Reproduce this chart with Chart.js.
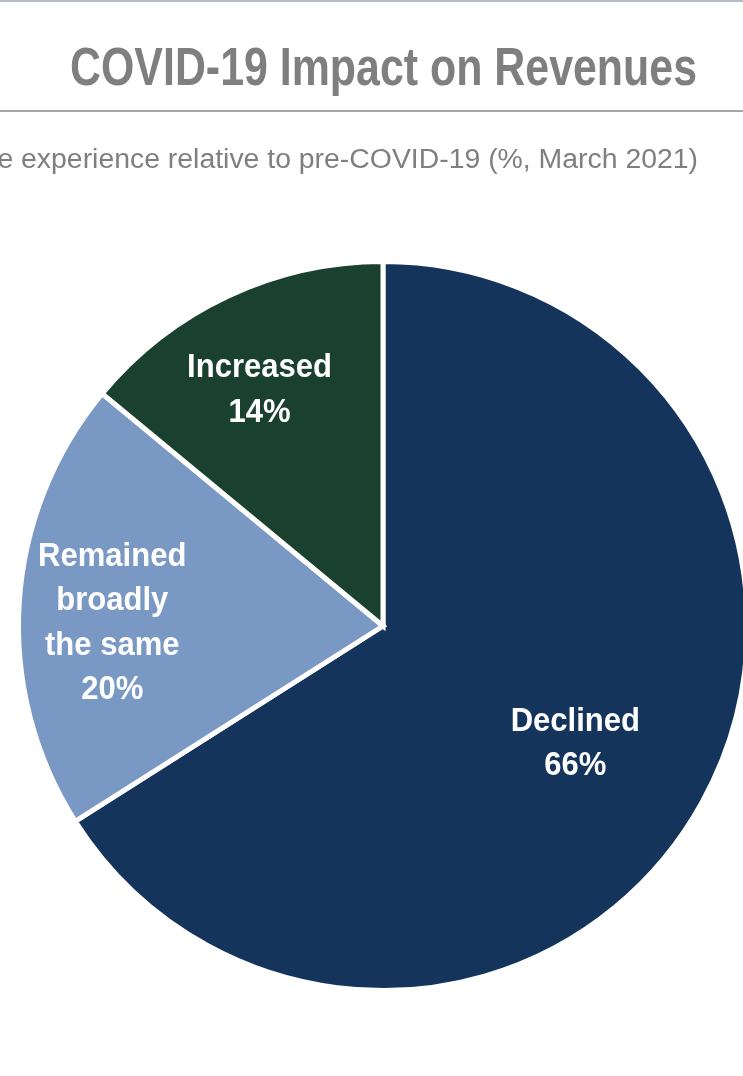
<!DOCTYPE html>
<html>
<head>
<meta charset="utf-8">
<script src="https://cdn.jsdelivr.net/npm/chart.js@4.4.1/dist/chart.umd.min.js"></script>
<style>
  html, body { margin: 0; padding: 0; background: #fff; overflow: hidden; }
  #wrap { width: 766px; height: 1076px; }
</style>
</head>
<body>
<div id="wrap"><canvas id="chart" width="766" height="1076"></canvas></div>
<script>
const title = 'COVID-19 Impact on Revenues'
const subtitle = 'Revenue experience relative to pre-COVID-19 (%, March 2021)'
const categories = ['Declined', 'Remained broadly the same', 'Increased']
const labelLines = [['Declined'], ['Remained', 'broadly', 'the same'], ['Increased']]
const shares = [66, 20, 14]
const colors = ['#15345c', '#7a98c4', '#1a4030']

// draw text squeezed horizontally (no narrow font installed)
function squeezed (ctx, text, x, y, sx) {
  ctx.save()
  ctx.translate(x, y)
  ctx.scale(sx, 1)
  ctx.fillText(text, 0, 0)
  ctx.restore()
}

// header: top rule, title, divider, subtitle
const header = {
  id: 'header',
  beforeDraw (chart) {
    const ctx = chart.ctx
    ctx.save()
    ctx.fillStyle = '#b6bdc4'
    ctx.fillRect(0, 0, chart.width, 2)
    ctx.fillStyle = '#a6a6a6'
    ctx.fillRect(0, 110, chart.width, 2)
    ctx.fillStyle = '#7f7f7f'
    ctx.textAlign = 'center'
    ctx.textBaseline = 'alphabetic'
    ctx.font = 'bold 53px "Liberation Sans", Arial, sans-serif'
    const w = ctx.measureText(title).width
    squeezed(ctx, title, 383.5, 85, 627 / w)
    ctx.textAlign = 'right'
    ctx.font = '28.4px "Liberation Sans", Arial, sans-serif'
    ctx.fillText(subtitle, 698, 168)
    ctx.restore()
  }
}

// slice labels placed around each arc's mid angle
const sliceLabels = {
  id: 'sliceLabels',
  afterDatasetsDraw (chart, args, opts) {
    const ctx = chart.ctx
    const meta = chart.getDatasetMeta(0)
    const size = opts.fontSize
    ctx.save()
    ctx.fillStyle = '#ffffff'
    ctx.textAlign = 'center'
    ctx.textBaseline = 'alphabetic'
    ctx.font = `bold ${size}px "Liberation Sans", Arial, sans-serif`
    meta.data.forEach((arc, i) => {
      const p = arc.getProps(['x', 'y', 'startAngle', 'endAngle', 'outerRadius'], true)
      const mid = (p.startAngle + p.endAngle) / 2 + opts.shift[i] * Math.PI / 180
      const r = p.outerRadius * opts.radius[i]
      const cx = p.x + Math.cos(mid) * r
      const cy = p.y + Math.sin(mid) * r
      const lines = labelLines[i].concat([shares[i] + '%'])
      lines.forEach((t, j) => {
        const lineMid = cy + (j - (lines.length - 1) / 2) * opts.lineHeight
        squeezed(ctx, t, cx, lineMid + size * 0.358, opts.squeeze)
      })
    })
    ctx.restore()
  }
}

new Chart(document.getElementById('chart'), {
  type: 'pie',
  data: {
    labels: categories,
    datasets: [{
      data: shares,
      backgroundColor: colors,
      borderColor: '#ffffff',
      borderWidth: 5,
      borderJoinStyle: 'miter'
    }]
  },
  options: {
    responsive: false,
    animation: false,
    layout: { padding: { top: 259, bottom: 83, left: 0, right: 0 } },
    plugins: {
      legend: { display: false },
      tooltip: { enabled: false },
      sliceLabels: {
        radius: [0.615, 0.743, 0.736],
        shift: [2.1, -2.5, -2.2],
        lineHeight: 44.5,
        fontSize: 33,
        squeeze: 0.94
      }
    }
  },
  plugins: [header, sliceLabels]
})
</script>
</body>
</html>
